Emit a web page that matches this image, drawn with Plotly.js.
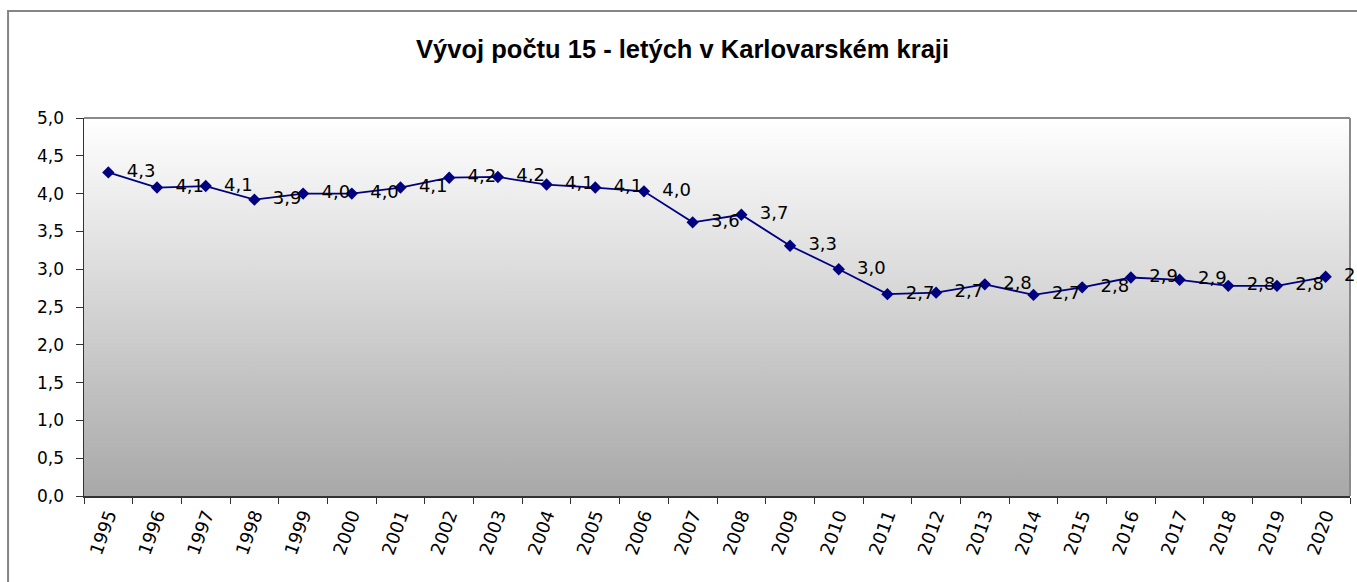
<!DOCTYPE html>
<html>
<head>
<meta charset="utf-8">
<script src="https://cdn.plot.ly/plotly-3.0.1.min.js"></script>
<style>
html,body{margin:0;padding:0;background:#fff;}
#chart{width:1357px;height:582px;}
</style>
</head>
<body>
<div id="chart"></div>
<script>
const titleText = 'Vývoj počtu 15 - letých v Karlovarském kraji';
const years = ['1995','1996','1997','1998','1999','2000','2001','2002','2003','2004','2005','2006','2007','2008','2009','2010','2011','2012','2013','2014','2015','2016','2017','2018','2019','2020'];
const values = [4.28,4.08,4.10,3.92,4.00,4.00,4.08,4.21,4.22,4.12,4.08,4.03,3.62,3.72,3.31,3.00,2.67,2.69,2.80,2.66,2.76,2.89,2.86,2.78,2.78,2.90];

const gradSvg = '<svg xmlns="http://www.w3.org/2000/svg" width="100" height="100" preserveAspectRatio="none">' +
  '<defs><linearGradient id="g" x1="0" y1="0" x2="0" y2="1">' +
  '<stop offset="0" stop-color="#ffffff"/><stop offset="1" stop-color="#a8a8a8"/>' +
  '</linearGradient></defs><rect width="100" height="100" fill="url(#g)"/></svg>';
const gradUrl = 'data:image/svg+xml;charset=utf-8,' + encodeURIComponent(gradSvg);

const trace = {
  type: 'scatter',
  mode: 'lines+markers+text',
  x: years,
  y: values,
  line: {color: '#000080', width: 1.8},
  marker: {symbol: 'diamond', size: 9.5, color: '#000080'},
  texttemplate: '\u00a0\u00a0%{y:.1f}',
  textposition: 'middle right',
  textfont: {family: 'DejaVu Sans', size: 18, color: '#000000'},
  cliponaxis: false,
  hoverinfo: 'skip'
};

const layout = {
  width: 1357,
  height: 582,
  separators: ', ',
  paper_bgcolor: '#ffffff',
  plot_bgcolor: 'rgba(0,0,0,0)',
  margin: {l: 84, r: 7, t: 118, b: 86},
  showlegend: false,
  title: {
    text: '<b>' + titleText + '</b>',
    font: {family: 'Liberation Sans, Arial', size: 25.5, color: '#000000'},
    xref: 'container', x: 0.503, xanchor: 'center',
    yref: 'container', y: 0.916, yanchor: 'middle'
  },
  xaxis: {
    type: 'category',
    range: [-0.5, years.length - 0.5],
    tickson: 'boundaries',
    ticks: 'outside', ticklen: 6, tickwidth: 1, tickcolor: '#333333',
    showline: true, linecolor: '#333333', linewidth: 1.5,
    showgrid: false, zeroline: false,
    tickangle: -70,
    tickfont: {family: 'DejaVu Sans', size: 18, color: '#000000'}
  },
  yaxis: {
    range: [0, 5],
    tick0: 0, dtick: 0.5,
    tickformat: '.1f',
    ticks: 'outside', ticklen: 7, tickwidth: 1, tickcolor: '#333333',
    showline: true, linecolor: '#333333', linewidth: 1.5,
    showgrid: false, zeroline: false,
    ticklabelstandoff: 8,
    tickfont: {family: 'DejaVu Sans', size: 17, color: '#000000'}
  },
  images: [{
    source: gradUrl,
    xref: 'paper', yref: 'paper',
    x: 0, y: 1, sizex: 1, sizey: 1,
    xanchor: 'left', yanchor: 'top',
    sizing: 'stretch', layer: 'below'
  }],
  shapes: [
    {type: 'rect', xref: 'paper', yref: 'paper', x0: -0.0600, x1: 1.02, y0: -0.30, y1: 1.2831,
     line: {color: '#858585', width: 2}, fillcolor: 'rgba(0,0,0,0)', layer: 'below'},
    {type: 'line', xref: 'paper', yref: 'paper', x0: 0, x1: 1, y0: 1, y1: 1,
     line: {color: '#8a8a8a', width: 2}, layer: 'below'},
    {type: 'line', xref: 'paper', yref: 'paper', x0: 1, x1: 1, y0: 0, y1: 1,
     line: {color: '#8a8a8a', width: 2}, layer: 'below'}
  ]
};

Plotly.newPlot('chart', [trace], layout, {staticPlot: true, displayModeBar: false});
</script>
</body>
</html>
